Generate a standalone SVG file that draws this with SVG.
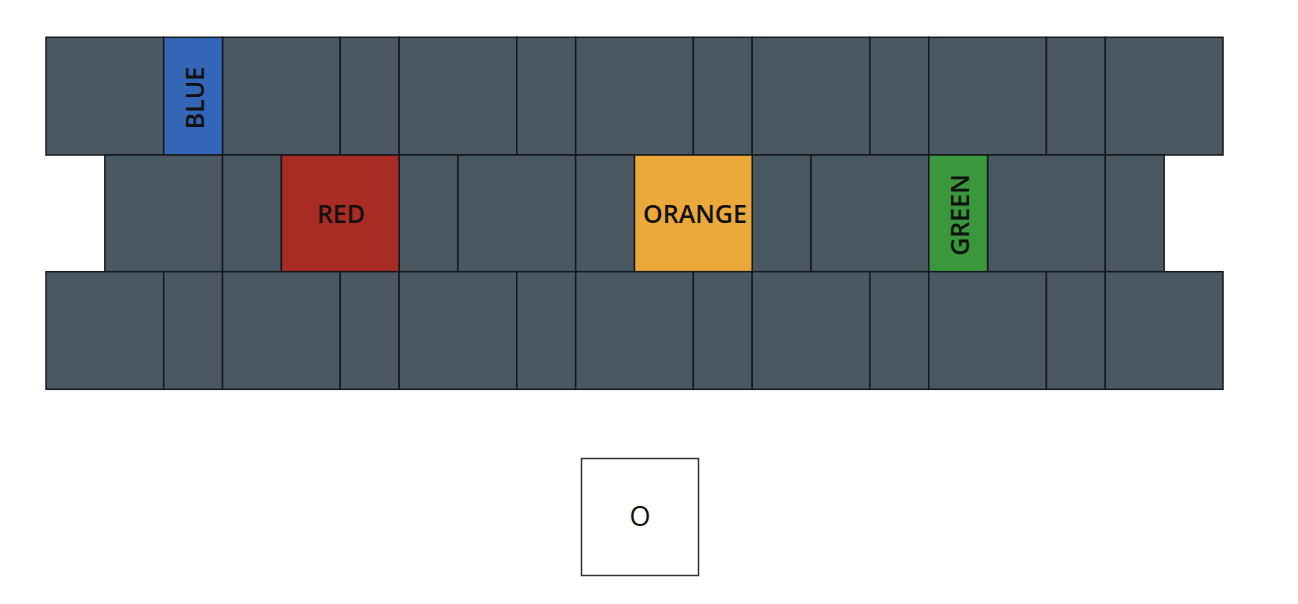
<svg xmlns="http://www.w3.org/2000/svg" width="1298" height="604" viewBox="0 0 1298 604">
<style>
.t{fill:#4a5864;stroke:#16191c;stroke-width:1.5}
.lbl{font-family:"Open Sans","Liberation Sans",sans-serif;font-weight:600;font-size:25px;fill:#111;text-anchor:middle;dominant-baseline:central}
</style>
<rect width="1298" height="604" fill="#fff"/>
<g id="row-top">
<rect class="t" x="46" y="37.3" width="117.7" height="117.7"/>
<rect class="t" x="222.55" y="37.3" width="117.7" height="117.7"/>
<rect class="t" x="340.25" y="37.3" width="58.85" height="117.7"/>
<rect class="t" x="399.1" y="37.3" width="117.7" height="117.7"/>
<rect class="t" x="516.8" y="37.3" width="58.85" height="117.7"/>
<rect class="t" x="575.65" y="37.3" width="117.7" height="117.7"/>
<rect class="t" x="693.35" y="37.3" width="58.85" height="117.7"/>
<rect class="t" x="752.2" y="37.3" width="117.7" height="117.7"/>
<rect class="t" x="869.9" y="37.3" width="58.85" height="117.7"/>
<rect class="t" x="928.75" y="37.3" width="117.7" height="117.7"/>
<rect class="t" x="1046.45" y="37.3" width="58.85" height="117.7"/>
<rect class="t" x="1105.3" y="37.3" width="117.7" height="117.7"/>
</g>
<g id="blue">
<rect class="t" x="163.7" y="37.3" width="58.85" height="117.7" style="fill:#3366b6"/>
<text class="lbl" transform="translate(194,98) rotate(-90)">BLUE</text>
</g>
<g id="row-middle">
<rect class="t" x="104.85" y="155" width="117.7" height="116.7"/>
<rect class="t" x="222.55" y="155" width="58.85" height="116.7"/>
<rect class="t" x="399.1" y="155" width="58.85" height="116.7"/>
<rect class="t" x="457.95" y="155" width="117.7" height="116.7"/>
<rect class="t" x="575.65" y="155" width="58.85" height="116.7"/>
<rect class="t" x="752.2" y="155" width="58.85" height="116.7"/>
<rect class="t" x="811.05" y="155" width="117.7" height="116.7"/>
<rect class="t" x="987.6" y="155" width="117.7" height="116.7"/>
<rect class="t" x="1105.3" y="155" width="58.85" height="116.7"/>
</g>
<g id="red">
<rect class="t" x="281.4" y="155" width="117.7" height="116.7" style="fill:#a82b24"/>
<text class="lbl" x="341" y="213">RED</text>
</g>
<g id="orange">
<rect class="t" x="634.5" y="155" width="117.7" height="116.7" style="fill:#eba93b"/>
<text class="lbl" x="695" y="213">ORANGE</text>
</g>
<g id="green">
<rect class="t" x="928.75" y="155" width="58.85" height="116.7" style="fill:#3a973b"/>
<text class="lbl" transform="translate(959,215) rotate(-90)">GREEN</text>
</g>
<g id="row-bottom">
<rect class="t" x="46" y="271.7" width="117.7" height="117.6"/>
<rect class="t" x="163.7" y="271.7" width="58.85" height="117.6"/>
<rect class="t" x="222.55" y="271.7" width="117.7" height="117.6"/>
<rect class="t" x="340.25" y="271.7" width="58.85" height="117.6"/>
<rect class="t" x="399.1" y="271.7" width="117.7" height="117.6"/>
<rect class="t" x="516.8" y="271.7" width="58.85" height="117.6"/>
<rect class="t" x="575.65" y="271.7" width="117.7" height="117.6"/>
<rect class="t" x="693.35" y="271.7" width="58.85" height="117.6"/>
<rect class="t" x="752.2" y="271.7" width="117.7" height="117.6"/>
<rect class="t" x="869.9" y="271.7" width="58.85" height="117.6"/>
<rect class="t" x="928.75" y="271.7" width="117.7" height="117.6"/>
<rect class="t" x="1046.45" y="271.7" width="58.85" height="117.6"/>
<rect class="t" x="1105.3" y="271.7" width="117.7" height="117.6"/>
</g>
<g id="origin">
<rect x="581.5" y="458.5" width="117" height="117" fill="#fff" stroke="#333" stroke-width="1.5"/>
<text x="640" y="515" font-family="'Open Sans','Liberation Sans',sans-serif" font-size="27" fill="#111" text-anchor="middle" dominant-baseline="central">O</text>
</g>
</svg>
